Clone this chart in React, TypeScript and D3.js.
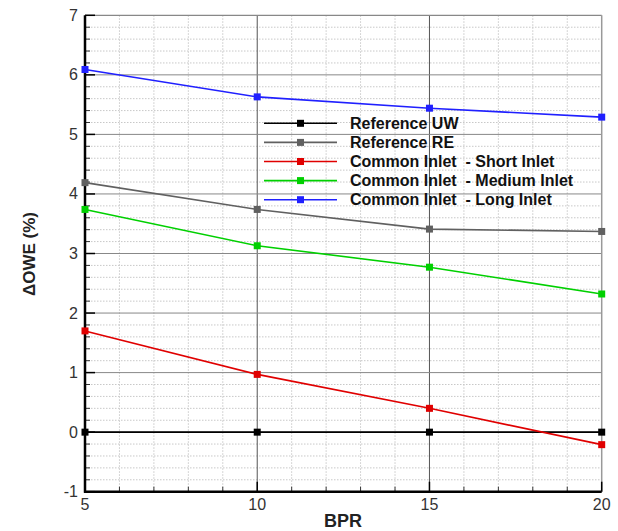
import React from "react";
import * as d3 from "d3";

const bpr = [5, 10, 15, 20];
const refUW = [0, 0, 0, 0];
const refRE = [4.19, 3.74, 3.41, 3.37];
const shortInlet = [1.70, 0.97, 0.40, -0.21];
const mediumInlet = [3.74, 3.13, 2.77, 2.32];
const longInlet = [6.09, 5.63, 5.44, 5.29];

const seriesNames = [
  "Reference UW",
  "Reference RE",
  "Common Inlet  - Short Inlet",
  "Common Inlet  - Medium Inlet",
  "Common Inlet  - Long Inlet",
];
const seriesColors = ["#000000", "#606060", "#e00000", "#00d000", "#2020ff"];
const seriesValues = [refUW, refRE, shortInlet, mediumInlet, longInlet];

const xTicks = [5, 10, 15, 20];
const yTicks = [-1, 0, 1, 2, 3, 4, 5, 6, 7];

export default function App() {
  const W = 618, H = 531;
  const L = 85, R = 601.7, T = 15.3, B = 491.7;
  const x = d3.scaleLinear().domain([5, 20]).range([L, R]);
  const y = d3.scaleLinear().domain([-1, 7]).range([B, T]);
  const xMinor = d3.range(5, 20.001, 1).filter((v) => v % 5 !== 0);
  const yMinor = d3.range(-1, 7.001, 0.2).map((v) => Math.round(v * 10) / 10).filter((v) => Math.abs(v - Math.round(v)) > 0.01);
  const line = d3.line<number>().x((_, i) => x(bpr[i])).y((d) => y(d));
  const font = "'Liberation Sans', Arial, Helvetica, sans-serif";
  const legX = 264, legY0 = 123.3, legDy = 19.1;

  return (
    <svg width={W} height={H} style={{ position: "absolute", left: 0, top: 0 }} fontFamily={font}>
      <rect x={0} y={0} width={W} height={H} fill="#fff" />
      {/* minor grid */}
      {xMinor.map((v) => (
        <line key={"xm" + v} x1={x(v)} x2={x(v)} y1={T} y2={B} stroke="#c8c8c8" strokeWidth={1} strokeDasharray="1.5,1.5" />
      ))}
      {yMinor.map((v) => (
        <line key={"ym" + v} x1={L} x2={R} y1={y(v)} y2={y(v)} stroke="#c8c8c8" strokeWidth={1} strokeDasharray="1.5,1.5" />
      ))}
      {/* major grid */}
      {xTicks.slice(1, -1).map((v) => (
        <line key={"xM" + v} x1={x(v)} x2={x(v)} y1={T} y2={B} stroke="#555" strokeWidth={1} />
      ))}
      {yTicks.slice(1, -1).map((v) => (
        <line key={"yM" + v} x1={L} x2={R} y1={y(v)} y2={y(v)} stroke="#888" strokeWidth={1} />
      ))}
      {/* border */}
      <line x1={L} x2={R} y1={T} y2={T} stroke="#888" strokeWidth={1.2} />
      <line x1={R} x2={R} y1={T} y2={B} stroke="#999" strokeWidth={1.5} />
      {/* ticks */}
      {yTicks.map((v) => (
        <line key={"yt" + v} x1={L} x2={L + 10} y1={y(v)} y2={y(v)} stroke="#000" strokeWidth={1.5} />
      ))}
      {yMinor.map((v) => (
        <line key={"ytm" + v} x1={L} x2={L + 5} y1={y(v)} y2={y(v)} stroke="#333" strokeWidth={1} />
      ))}
      {xTicks.map((v) => (
        <line key={"xt" + v} x1={x(v)} x2={x(v)} y1={B} y2={B - 10} stroke="#000" strokeWidth={1.5} />
      ))}
      {xMinor.map((v) => (
        <line key={"xtm" + v} x1={x(v)} x2={x(v)} y1={B} y2={B - 5} stroke="#333" strokeWidth={1} />
      ))}
      {/* axes */}
      <line x1={L} x2={L} y1={T} y2={B + 1} stroke="#000" strokeWidth={2.5} />
      <line x1={L - 1} x2={R} y1={B} y2={B} stroke="#000" strokeWidth={2.5} />
      {/* tick labels */}
      {yTicks.map((v) => (
        <text key={"yl" + v} x={L - 7} y={y(v) + 5.5} textAnchor="end" fontSize={16} fill="#333">{v}</text>
      ))}
      {xTicks.map((v) => (
        <text key={"xl" + v} x={x(v)} y={510} textAnchor="middle" fontSize={16} fill="#333">{v}</text>
      ))}
      {/* axis titles */}
      <text x={343} y={527} textAnchor="middle" fontSize={18} fontWeight="bold" fill="#222">BPR</text>
      <text transform={`translate(35,254) rotate(-90)`} textAnchor="middle" fontSize={17} fontWeight="bold" fill="#222">ΔOWE (%)</text>
      {/* series */}
      {seriesValues.map((vals, si) => (
        <g key={"s" + si}>
          <path d={line(vals) || ""} fill="none" stroke={seriesColors[si]} strokeWidth={1.6} />
          {vals.map((v, i) => (
            <rect key={i} x={x(bpr[i]) - 3.5} y={y(v) - 3.5} width={7} height={7} fill={seriesColors[si]} />
          ))}
        </g>
      ))}
      {/* legend */}
      {seriesNames.map((n, i) => (
        <g key={"lg" + i}>
          <line x1={legX} x2={legX + 73} y1={legY0 + i * legDy} y2={legY0 + i * legDy} stroke={seriesColors[i]} strokeWidth={1.6} />
          <rect x={legX + 36.5 - 3.5} y={legY0 + i * legDy - 3.5} width={7} height={7} fill={seriesColors[i]} />
          <text x={350} y={legY0 + i * legDy + 5.5} fontSize={16} fontWeight="bold" fill="#111" style={{ whiteSpace: "pre" }}>{n}</text>
        </g>
      ))}
    </svg>
  );
}
